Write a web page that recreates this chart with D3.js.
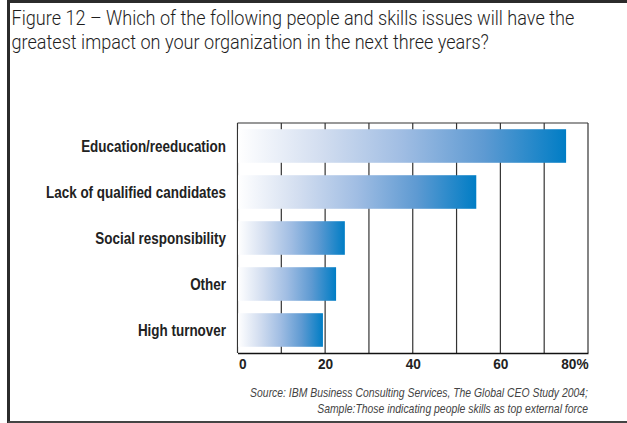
<!DOCTYPE html>
<html><head><meta charset="utf-8">
<script src="https://cdn.jsdelivr.net/npm/d3@7"></script>
<style>
html,body{margin:0;padding:0;background:#fff;}
svg{display:block;}
</style></head>
<body>
<svg id="chart" width="627" height="423"></svg>
<script>
const categories = ["Education/reeducation","Lack of qualified candidates","Social responsibility","Other","High turnover"];
const values = [75, 54.5, 24.5, 22.5, 19.5];
const tickValues = [0, 20, 40, 60, 80];
const tickLabels = ["0", "20", "40", "60", "80%"];
const gridValues = [10, 20, 30, 40, 50, 60, 70, 80];
const titleLines = ["Figure 12 – Which of the following people and skills issues will have the",
                    "greatest impact on your organization in the next three years?"];
const sourceLines = ["Source: IBM Business Consulting Services, The Global CEO Study 2004;",
                     "Sample:Those indicating people skills as top external force"];

const svg = d3.select("#chart");
const sans = "'Liberation Sans',Arial,sans-serif";

// helper: draw horizontally condensed text lines; factor fitted so the reference line gets target width
function condensedGroup(lines, opts){
  const g = svg.append("g");
  const items = lines.map((t,i)=>{
    const gi = g.append("g");
    const tx = gi.append("text").attr("x",0).attr("y",0)
      .attr("font-family",opts.family||sans).attr("font-size",opts.size)
      .attr("font-weight",opts.weight||"normal").attr("font-style",opts.style||"normal")
      .attr("fill",opts.fill||"#222").attr("text-anchor",opts.anchor||"start")
      .attr("dy",opts.dy||0).text(t);
    return {gi,tx,i};
  });
  const refLen = items[opts.refIndex||0].tx.node().getComputedTextLength();
  const f = opts.target/refLen;
  items.forEach(({gi,i})=>{
    const [x0,y0] = opts.pos(i);
    gi.attr("transform",`translate(${x0},${y0}) scale(${f},1)`);
  });
  return g;
}

// frame
svg.append("line").attr("x1",8).attr("x2",627).attr("y1",1.5).attr("y2",1.5).attr("stroke","#2b2b2b").attr("stroke-width",3);
svg.append("line").attr("x1",8.5).attr("x2",8.5).attr("y1",0).attr("y2",423).attr("stroke","#2b2b2b").attr("stroke-width",3);
svg.append("line").attr("x1",8).attr("x2",627).attr("y1",422).attr("y2",422).attr("stroke","#444").attr("stroke-width",2);

// title
condensedGroup(titleLines, {family:"Roboto,'Liberation Sans',sans-serif", weight:300, size:21, fill:"#1e1e1e",
  target:563, pos:i=>[11.5, 25+i*24]});

const m = {left:237.5, right:588, top:123, bottom:353};
const x = d3.scaleLinear().domain([0,80]).range([m.left,m.right]);
const y = d3.scaleBand().domain(categories).range([m.top,m.bottom]).paddingInner(0.27).paddingOuter(0.135);

// gradient
const defs = svg.append("defs");
const grad = defs.append("linearGradient").attr("id","barGrad").attr("x1","0%").attr("x2","100%").attr("y1","0%").attr("y2","0%");
[[0,"#ffffff"],[0.25,"#d3def0"],[0.5,"#a0bde3"],[0.75,"#5e9ad2"],[1,"#007dc5"]].forEach(s=>
  grad.append("stop").attr("offset",s[0]).attr("stop-color",s[1]));

// grid lines
svg.append("g").selectAll("line").data(gridValues).join("line")
  .attr("x1",d=>x(d)).attr("x2",d=>x(d)).attr("y1",m.top).attr("y2",m.bottom)
  .attr("stroke","#333").attr("stroke-width",1.2);
svg.append("line").attr("x1",m.left).attr("x2",m.right).attr("y1",m.top).attr("y2",m.top).attr("stroke","#333").attr("stroke-width",1.2);
svg.append("line").attr("x1",m.left).attr("x2",m.left).attr("y1",m.top).attr("y2",m.bottom).attr("stroke","#333").attr("stroke-width",1.2);

// bars
svg.append("g").selectAll("rect").data(categories).join("rect")
  .attr("x",x(0)+0.6).attr("y",d=>y(d))
  .attr("width",(d,i)=>x(values[i])-x(0)-0.6).attr("height",y.bandwidth())
  .attr("fill","url(#barGrad)");

// bottom axis
const xAxis = d3.axisBottom(x).tickValues(tickValues).tickSize(0).tickFormat((d,i)=>tickLabels[i]);
const ax = svg.append("g").attr("transform",`translate(0,${m.bottom})`).call(xAxis);
ax.select(".domain").attr("stroke","#111").attr("stroke-width",1.5);
ax.selectAll("text").attr("font-family",sans).attr("font-weight","bold").attr("font-size",15.5).attr("fill","#222")
  .attr("dy",0).attr("y",16.5)
  .attr("text-anchor",(d,i)=> i===0 ? "start" : (i===tickValues.length-1 ? "end" : "middle"))
  .attr("x",(d,i)=> i===0 ? 1 : 0)
  .attr("transform","scale(0.88,1)");

// category labels
condensedGroup(categories, {weight:"bold", size:16, anchor:"end", dy:"0.36em", fill:"#222",
  target:145, pos:i=>[226, y(categories[i])+y.bandwidth()/2]});

// source
condensedGroup(sourceLines, {style:"italic", size:12.5, anchor:"end", fill:"#444",
  target:338, pos:i=>[588, 397+i*16]});
</script>
</body></html>
